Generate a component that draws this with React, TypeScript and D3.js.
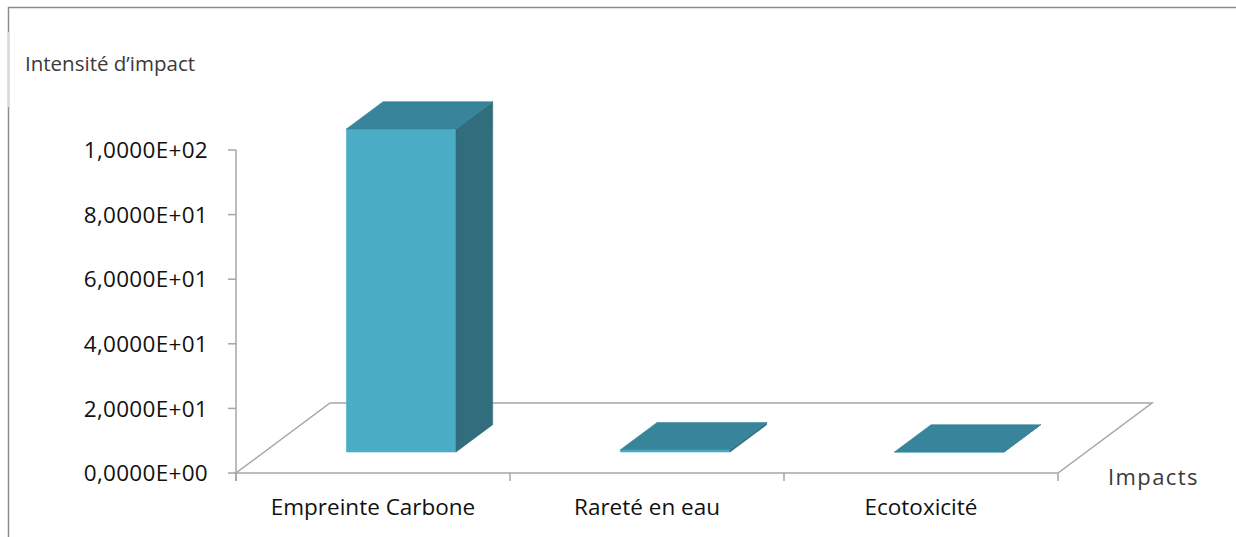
import React from "react";
import * as d3 from "d3";

// Impact categories and their intensity values
const categories: string[] = ["Empreinte Carbone", "Rareté en eau", "Ecotoxicité"];
const values: number[] = [100, 0.7, 0];
const tickValues: number[] = [0, 20, 40, 60, 80, 100];
const yTitle = "Intensité d’impact";
const xTitle = "Impacts";

const W = 1236;
const H = 537;

// Scientific notation with comma decimal separator, e.g. 1,0000E+02
const fmtSci = (v: number): string => {
  const [m, e] = v.toExponential(4).split("e");
  const exp = parseInt(e, 10);
  const sign = exp < 0 ? "-" : "+";
  const digits = String(Math.abs(exp)).padStart(2, "0");
  return `${m.replace(".", ",")}E${sign}${digits}`;
};

export default function App() {
  // front plane geometry
  const x = d3.scaleBand<string>().domain(categories).range([236, 1058]).padding(0);
  const y = d3.scaleLinear().domain([0, 100]).range([473, 150]);
  // depth projection: z in [0,1] maps to an oblique offset
  const depthX = d3.scaleLinear().domain([0, 1]).range([0, 94]);
  const depthY = d3.scaleLinear().domain([0, 1]).range([0, -70]);
  const p = (px: number, v: number, z: number): [number, number] => [
    px + depthX(z),
    y(v) + depthY(z),
  ];
  const poly = (pts: [number, number][]) => pts.map((q) => q.join(",")).join(" ");

  const bw = x.bandwidth();
  const barW = bw * 0.4;
  const zFront = 0.3;
  const zBack = 0.69;

  const x0 = x.range()[0];
  const x1 = x.range()[1];
  const floor = [p(x0, 0, 0), p(x1, 0, 0), p(x1, 0, 1), p(x0, 0, 1)];

  const gridColor = "#a6a6a6";
  const font = "'Open Sans', 'Noto Sans', sans-serif";

  return (
    <svg
      width={W}
      height={H}
      viewBox={`0 0 ${W} ${H}`}
      style={{ position: "absolute", left: 0, top: 0, background: "#fff" }}
    >
      {/* outer frame */}
      <line x1={8.5} y1={7.5} x2={W} y2={7.5} stroke="#8c8c8c" strokeWidth={1.5} />
      <line x1={8.5} y1={7} x2={8.5} y2={H} stroke="#8c8c8c" strokeWidth={1.5} />
      <line x1={8.5} y1={32} x2={8.5} y2={107} stroke="#d9d9d9" strokeWidth={1.5} />

      {/* axis title */}
      <text x={25} y={71} fontFamily={font} fontSize={20.5} fill="#3a3a3a">
        {yTitle}
      </text>

      {/* floor outline */}
      <polygon points={poly(floor)} fill="none" stroke={gridColor} strokeWidth={1.5} />

      {/* value axis */}
      <line x1={x0} y1={y(100)} x2={x0} y2={y(0) + 8} stroke={gridColor} strokeWidth={1.5} />
      {tickValues.map((t) => (
        <g key={t}>
          <line x1={x0 - 8} y1={y(t)} x2={x0} y2={y(t)} stroke={gridColor} strokeWidth={1.5} />
          <text
            x={208}
            y={y(t)}
            dy="0.36em"
            textAnchor="end"
            fontFamily={font}
            fontSize={22.5}
            letterSpacing={0.3}
            fill="#111"
          >
            {fmtSci(t)}
          </text>
        </g>
      ))}

      {/* category axis ticks and labels */}
      {[...categories.map((c) => x(c) as number), x1].map((tx, i) => (
        <line key={i} x1={tx} y1={y(0)} x2={tx} y2={y(0) + 8} stroke={gridColor} strokeWidth={1.5} />
      ))}
      {categories.map((c) => (
        <text
          key={c}
          x={(x(c) as number) + bw / 2}
          y={515}
          textAnchor="middle"
          fontFamily={font}
          fontSize={22.5}
          fill="#111"
        >
          {c}
        </text>
      ))}
      <text x={1108} y={485} fontFamily={font} fontSize={22} letterSpacing={1.4} fill="#3a3a3a">
        {xTitle}
      </text>

      {/* 3D bars */}
      {categories.map((c, i) => {
        const v = values[i];
        const l = (x(c) as number) + (bw - barW) / 2;
        const r = l + barW;
        const front = [p(l, 0, zFront), p(r, 0, zFront), p(r, v, zFront), p(l, v, zFront)];
        const side = [p(r, 0, zFront), p(r, 0, zBack), p(r, v, zBack), p(r, v, zFront)];
        const top = [p(l, v, zFront), p(r, v, zFront), p(r, v, zBack), p(l, v, zBack)];
        return (
          <g key={c}>
            <polygon points={poly(front)} fill="#4bacc6" stroke="#4bacc6" strokeWidth={0.6} />
            <polygon points={poly(side)} fill="#316d7c" stroke="#316d7c" strokeWidth={0.6} />
            <polygon points={poly(top)} fill="#38849a" stroke="#38849a" strokeWidth={0.6} />
          </g>
        );
      })}
    </svg>
  );
}
